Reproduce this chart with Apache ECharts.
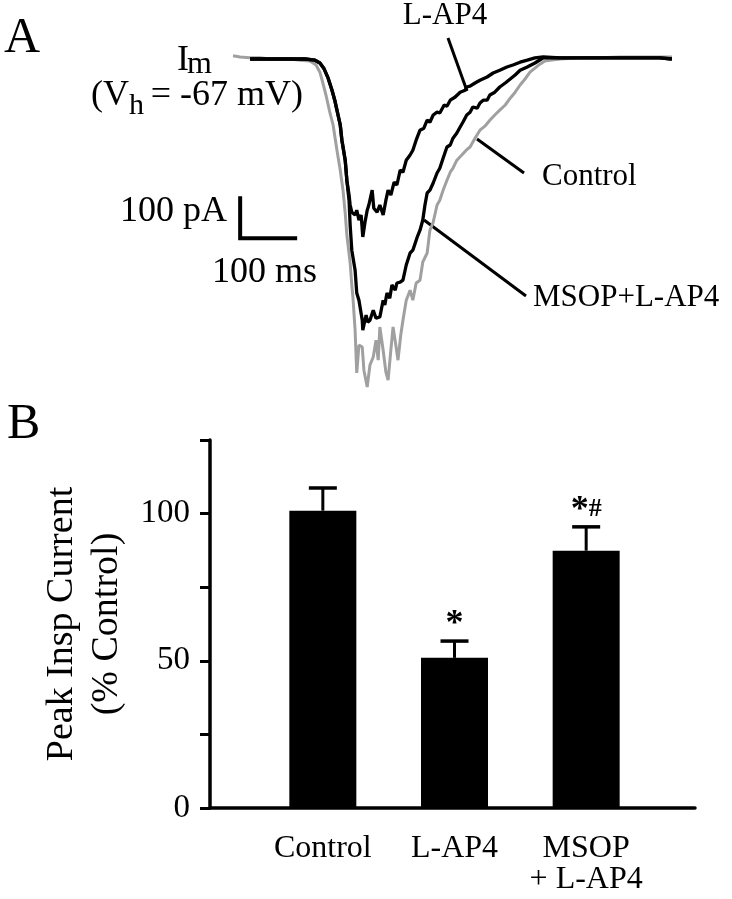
<!DOCTYPE html>
<html>
<head>
<meta charset="utf-8">
<script src="https://cdn.jsdelivr.net/npm/echarts@6/dist/echarts.min.js"></script>
<style>
html,body{margin:0;padding:0;background:#fff;}
#chart{width:732px;height:899px;}
</style>
</head>
<body>
<div id="chart"></div>
<script>
// ---------- Panel A: membrane current traces (time in ms, current in pA) ----------
const controlTrace = [[0,8],[13,5],[31,3],[49,3],[67,0],[85,0],[104,0],[122,-3],[140,-5],[151,-15],[158,-33],[162,-53],[169,-90],[176,-133],[182,-165],[189,-228],[195,-278],[200,-328],[204,-385],[207,-440],[213,-510],[216,-565],[218,-595],[222,-678],[225,-785],[229,-715],[235,-720],[238,-778],[244,-820],[249,-765],[255,-745],[260,-703],[264,-753],[267,-670],[273,-728],[278,-783],[282,-803],[287,-728],[291,-670],[296,-715],[300,-753],[305,-690],[309,-653],[315,-603],[322,-578],[327,-603],[333,-560],[340,-553],[345,-508],[353,-485],[358,-428],[364,-408],[371,-365],[376,-353],[382,-328],[389,-303],[395,-283],[400,-273],[407,-253],[416,-240],[424,-228],[431,-220],[440,-198],[449,-178],[458,-168],[467,-153],[476,-140],[485,-128],[495,-115],[504,-98],[513,-83],[522,-65],[531,-50],[540,-33],[549,-23],[558,-13],[567,-5],[576,-3],[595,0],[631,3],[667,3],[704,5],[740,5],[776,5],[798,5]];
const lap4Trace = [[31,0],[67,0],[104,0],[131,0],[149,-3],[158,-10],[165,-23],[173,-48],[180,-78],[185,-103],[189,-128],[195,-165],[198,-203],[204,-253],[207,-303],[211,-340],[213,-365],[216,-383],[222,-390],[225,-378],[229,-403],[233,-390],[236,-445],[240,-408],[244,-378],[247,-365],[253,-328],[256,-373],[262,-383],[267,-365],[273,-390],[278,-353],[282,-328],[287,-340],[293,-308],[298,-315],[304,-278],[309,-283],[315,-253],[322,-240],[327,-228],[333,-203],[340,-178],[347,-173],[353,-153],[358,-158],[364,-140],[371,-133],[376,-135],[384,-115],[389,-118],[395,-103],[404,-95],[413,-83],[422,-78],[425,-70],[431,-68],[440,-60],[449,-53],[462,-45],[473,-35],[485,-28],[498,-20],[509,-15],[522,-8],[535,-3],[549,3],[564,5],[595,3],[631,3],[667,3],[704,3],[740,3],[776,3],[798,0]];
const msopTrace = [[31,0],[67,0],[104,0],[131,0],[149,-3],[158,-10],[165,-23],[173,-48],[180,-78],[185,-103],[189,-128],[195,-165],[198,-203],[204,-253],[207,-303],[211,-353],[213,-415],[216,-478],[222,-528],[225,-585],[229,-603],[235,-653],[236,-678],[242,-640],[245,-658],[249,-653],[255,-628],[260,-648],[267,-645],[273,-603],[276,-615],[280,-585],[285,-598],[289,-565],[295,-578],[298,-560],[304,-558],[309,-553],[315,-515],[322,-485],[327,-478],[335,-445],[340,-428],[345,-403],[349,-365],[353,-335],[358,-328],[364,-310],[371,-285],[376,-273],[382,-248],[389,-220],[395,-215],[400,-198],[407,-185],[413,-170],[418,-158],[425,-140],[431,-133],[436,-120],[444,-123],[449,-110],[455,-103],[462,-103],[467,-90],[476,-83],[485,-70],[495,-60],[504,-50],[513,-40],[522,-28],[535,-20],[549,-10],[564,3],[576,3],[595,3],[631,3],[667,3],[704,3],[740,3],[776,3],[798,0]];
// scale bar: 100 pA vertical, 100 ms horizontal
const scaleBar = [[13,-348],[13,-448],[113,-448]];

// ---------- Panel B: peak inspiratory current (% control) ----------
const categories = ['Control', 'L-AP4', 'MSOP\n+ L-AP4'];
const peakMeans = [101, 51, 87.4];
const peakSem = [7.7, 5.7, 8.1];
const sigMarks = ['', '{s|*}', '{s|*}{h|#}'];
const labeledTicks = [0, 50, 100];

const FONT = 'Liberation Serif';
const chart = echarts.init(document.getElementById('chart'), null, {renderer: 'canvas'});

function txt(text, x, y, size, align, extra) {
  return Object.assign({
    type: 'text', x: x, y: y,
    style: {text: text, font: size + 'px "' + FONT + '"', fill: '#000', align: align || 'left', verticalAlign: 'middle'}
  }, extra || {});
}
function seg(x1, y1, x2, y2, w) {
  return {type: 'line', shape: {x1: x1, y1: y1, x2: x2, y2: y2}, style: {stroke: '#000', lineWidth: w || 3}};
}

const option = {
  animation: false,
  backgroundColor: '#fff',
  textStyle: {fontFamily: FONT, color: '#000'},
  grid: [
    {left: 233, width: 440, top: 39, height: 360},
    {left: 210, width: 485, top: 440, height: 368},
    {left: 257, width: 395, top: 440, height: 368}
  ],
  xAxis: [
    {gridIndex: 0, type: 'value', min: 0, max: 800, show: false},
    {gridIndex: 1, type: 'value', min: 0, max: 1, axisLine: {show: true, lineStyle: {color: '#000', width: 3.5}},
      axisTick: {show: false}, axisLabel: {show: false}, splitLine: {show: false}},
    {gridIndex: 2, type: 'category', data: categories, axisLine: {show: false}, axisTick: {show: false},
      axisLabel: {interval: 0, margin: 25, fontSize: 32, lineHeight: 31, fontFamily: FONT, color: '#000'}}
  ],
  yAxis: [
    {gridIndex: 0, type: 'value', min: -850, max: 50, show: false},
    {gridIndex: 1, type: 'value', min: 0, max: 125, interval: 25,
      axisLine: {show: true, lineStyle: {color: '#000', width: 3.5}},
      axisTick: {show: true, length: 10, lineStyle: {color: '#000', width: 3}},
      axisLabel: {margin: 20, fontSize: 33, fontFamily: FONT, color: '#000',
        formatter: v => labeledTicks.indexOf(v) >= 0 ? String(v) : ''},
      splitLine: {show: false},
      name: 'Peak Insp Current\n(% Control)', nameLocation: 'middle', nameGap: 70,
      nameTextStyle: {fontSize: 38, lineHeight: 45, fontFamily: FONT, color: '#000'}},
    {gridIndex: 2, type: 'value', min: 0, max: 125, show: false}
  ],
  series: [
    {type: 'line', xAxisIndex: 0, yAxisIndex: 0, data: controlTrace, showSymbol: false, symbol: 'none',
      lineStyle: {color: '#a0a0a0', width: 3}, z: 2},
    {type: 'line', xAxisIndex: 0, yAxisIndex: 0, data: msopTrace, showSymbol: false, symbol: 'none',
      lineStyle: {color: '#000', width: 3.3}, z: 3},
    {type: 'line', xAxisIndex: 0, yAxisIndex: 0, data: lap4Trace, showSymbol: false, symbol: 'none',
      lineStyle: {color: '#000', width: 3.3}, z: 4},
    {type: 'line', xAxisIndex: 0, yAxisIndex: 0, data: scaleBar, showSymbol: false, symbol: 'none',
      lineStyle: {color: '#000', width: 4, cap: 'square', join: 'miter'}, z: 4},
    {type: 'bar', xAxisIndex: 2, yAxisIndex: 2, data: peakMeans, barWidth: 67, itemStyle: {color: '#000'}},
    {type: 'custom', xAxisIndex: 2, yAxisIndex: 2,
      data: peakMeans.map((m, i) => [i, m, peakSem[i]]),
      renderItem: function (params, api) {
        const i = api.value(0), m = api.value(1), e = api.value(2);
        const base = api.coord([i, m]);
        const top = api.coord([i, m + e]);
        const half = 14;
        const children = [
          {type: 'line', shape: {x1: base[0], y1: base[1], x2: top[0], y2: top[1]}, style: {stroke: '#000', lineWidth: 3}},
          {type: 'line', shape: {x1: top[0] - half, y1: top[1], x2: top[0] + half, y2: top[1]}, style: {stroke: '#000', lineWidth: 3.5}}
        ];
        if (sigMarks[i]) {
          children.push({type: 'text', x: top[0], y: top[1] - 16,
            style: {text: sigMarks[i], align: 'center', verticalAlign: 'middle', fill: '#000',
              rich: {s: {fontFamily: FONT, fontWeight: 'bold', fontSize: 36, fill: '#000'},
                     h: {fontFamily: FONT, fontWeight: 'bold', fontSize: 26, fill: '#000', padding: [0, 0, 4, 0]}}}});
        }
        return {type: 'group', children: children};
      }, z: 5}
  ],
  graphic: [
    txt('A', 4, 39, 50, 'left'),
    txt('B', 7, 425, 50, 'left'),
    txt('I', 177, 61, 36, 'left'),
    txt('m', 187, 65, 32, 'left'),
    txt('(V', 91, 96, 36, 'left'),
    txt('h', 129, 106, 30, 'left'),
    txt('= -67 mV)', 303, 96, 36, 'right'),
    txt('100 pA', 227, 212, 36, 'right'),
    txt('100 ms', 212, 273, 36, 'left'),
    txt('L-AP4', 445, 16, 31, 'center'),
    txt('Control', 542, 177, 31, 'left'),
    txt('MSOP+L-AP4', 533, 298, 31, 'left'),
    seg(448, 38, 467, 91, 3),
    seg(477, 139, 524, 173, 3),
    seg(424, 220, 526, 296, 3)
  ]
};
chart.setOption(option);
</script>
</body>
</html>
